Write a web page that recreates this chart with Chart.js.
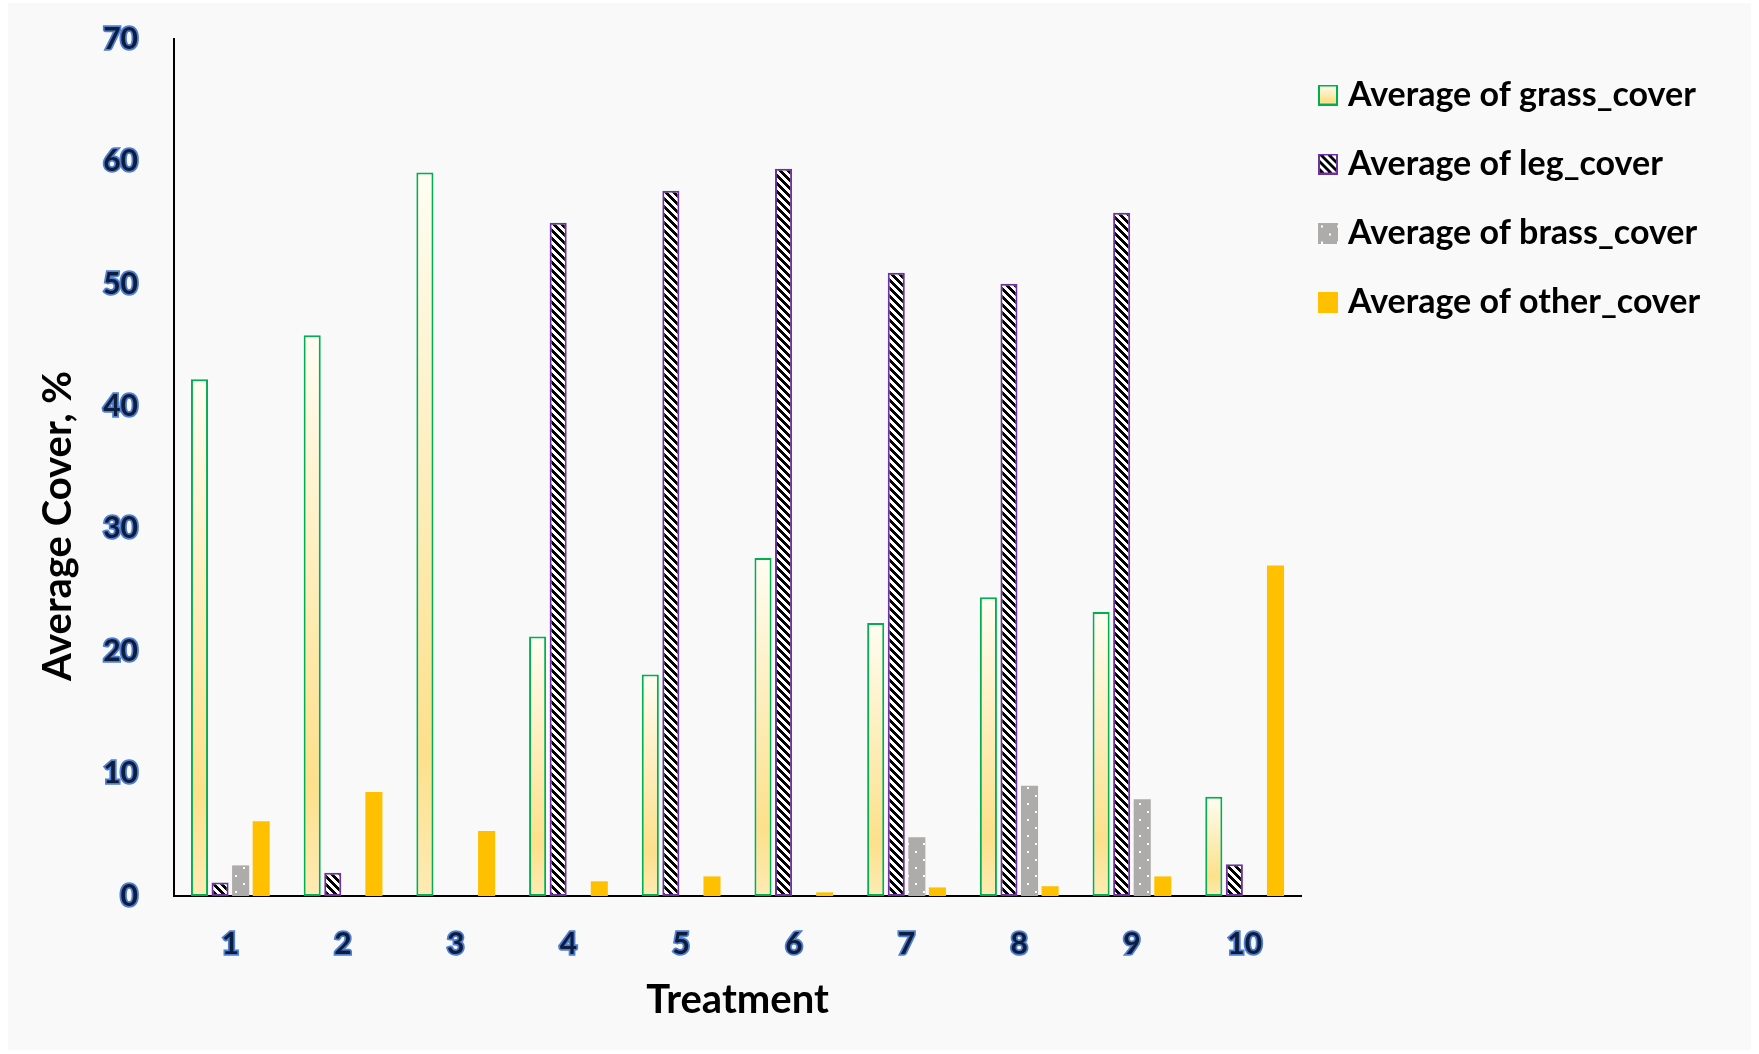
<!DOCTYPE html>
<html>
<head>
<meta charset="utf-8">
<title>Average Cover by Treatment</title>
<script src="https://cdn.jsdelivr.net/npm/chart.js@4.4.1/dist/chart.umd.min.js"></script>
<style>
  html, body { margin: 0; padding: 0; background: #ffffff; }
  #wrap { position: relative; width: 1759px; height: 1054px; }
  canvas { display: block; }
</style>
</head>
<body>
<div id="wrap"><canvas id="chart" width="1759" height="1054"></canvas></div>
<script>
// ---- data ----
const treatments = ['1', '2', '3', '4', '5', '6', '7', '8', '9', '10'];
const grassCover = [42.2, 45.8, 59.1, 21.2, 18.1, 27.6, 22.3, 24.4, 23.2, 8.1];
const legCover   = [1.1, 1.9, null, 55.0, 57.6, 59.4, 50.9, 50.0, 55.8, 2.6];
const brassCover = [2.5, null, null, null, null, null, 4.8, 9.0, 7.9, null];
const otherCover = [6.1, 8.5, 5.3, 1.2, 1.6, 0.3, 0.7, 0.8, 1.6, 27.0];
const seriesNames = ['Average of grass_cover', 'Average of leg_cover', 'Average of brass_cover', 'Average of other_cover'];
const yMin = 0, yMax = 70, yStep = 10;
const xTitle = 'Treatment';
const yTitle = 'Average Cover, %';

// ---- look ----
const FONT = 'Lato';
const W = 1759, H = 1054;
const PLOT_LEFT = 174, PLOT_TOP = 39, PLOT_RIGHT = 1301, XAXIS_H = 158;
const LEG_PAD = 24, LEG_POINT_W = 6, LEG_FONT = 34;

// diagonal black/white hatch tile
function hatchTile() {
  const c = document.createElement('canvas'); c.width = 8; c.height = 8;
  const x = c.getContext('2d'); const img = x.createImageData(8, 8);
  for (let j = 0; j < 8; j++) for (let i = 0; i < 8; i++) {
    const k = (j * 8 + i) * 4; const dark = (((i - j) % 8) + 8) % 8 < 4;
    const v = dark ? 0 : 255; img.data[k] = v; img.data[k + 1] = v; img.data[k + 2] = v; img.data[k + 3] = 255;
  }
  x.putImageData(img, 0, 0); return c;
}
// grey tile with sparse white dots
function dotTile() {
  const c = document.createElement('canvas'); c.width = 16; c.height = 16;
  const x = c.getContext('2d');
  x.fillStyle = '#aeabab'; x.fillRect(0, 0, 16, 16);
  x.fillStyle = '#ffffff'; x.fillRect(3, 3, 2, 2); x.fillRect(11, 11, 2, 2);
  return c;
}

function makeIcon(draw) {
  const c = document.createElement('canvas'); c.width = 20; c.height = 21;
  draw(c.getContext('2d'), 20, 21); return c;
}

function build() {
  const ctx = document.getElementById('chart').getContext('2d');
  const hatch = ctx.createPattern(hatchTile(), 'repeat');
  const dots = ctx.createPattern(dotTile(), 'repeat');

  const icons = [
    makeIcon((g, w, h) => {
      const gr = g.createLinearGradient(0, 0, 0, h);
      gr.addColorStop(0, '#fffdf3'); gr.addColorStop(0.8, '#fde08b'); gr.addColorStop(1, '#feebb4');
      g.fillStyle = gr; g.fillRect(0, 0, w, h);
      g.strokeStyle = '#00b050'; g.lineWidth = 2; g.strokeRect(1, 1, w - 2, h - 2);
    }),
    makeIcon((g, w, h) => {
      g.fillStyle = g.createPattern(hatchTile(), 'repeat'); g.fillRect(0, 0, w, h);
      g.strokeStyle = '#7030a0'; g.lineWidth = 2; g.strokeRect(1, 1, w - 2, h - 2);
    }),
    makeIcon((g, w, h) => {
      g.fillStyle = g.createPattern(dotTile(), 'repeat'); g.fillRect(0, 0, w, h);
    }),
    makeIcon((g, w, h) => { g.fillStyle = '#ffc000'; g.fillRect(0, 0, w, h); })
  ];

  // legend width -> right padding so the plot ends where wanted
  ctx.font = `bold ${LEG_FONT}px ${FONT}`;
  const textW = Math.max(...seriesNames.map(s => ctx.measureText(s).width));
  const legendW = LEG_PAD + LEG_POINT_W + LEG_FONT / 2 + textW + 10;
  const padRight = Math.max(0, W - PLOT_RIGHT - legendW);

  const grassFill = (c) => {
    const chart = c.chart, ys = chart.scales.y;
    if (c.type !== 'data' || !ys || c.raw == null) return '#fde08b';
    const top = ys.getPixelForValue(c.raw), base = ys.getPixelForValue(0);
    const gr = chart.ctx.createLinearGradient(0, top, 0, base);
    gr.addColorStop(0, '#fffdf3'); gr.addColorStop(0.8, '#fde08b'); gr.addColorStop(1, '#feebb4');
    return gr;
  };

  const background = {
    id: 'background',
    beforeDraw(chart) {
      const g = chart.ctx; g.save();
      g.fillStyle = '#ffffff'; g.fillRect(0, 0, W, H);
      g.fillStyle = '#f9f9f9'; g.fillRect(8, 3, W - 16, H - 7);
      g.restore();
    }
  };
  const sideTitle = {
    id: 'sideTitle',
    afterDraw(chart) {
      const g = chart.ctx; g.save();
      g.translate(58, 526); g.rotate(-Math.PI / 2);
      g.font = `bold 40px ${FONT}`; g.fillStyle = '#000000';
      g.textAlign = 'center'; g.textBaseline = 'middle';
      g.fillText(yTitle, 0, 0);
      g.restore();
    }
  };

  const tickFont = { family: FONT, weight: 'bold', size: 30 };
  const tickStyle = { font: tickFont, color: '#101c3c', textStrokeColor: '#4f7fd0', textStrokeWidth: 3.5 };

  new Chart(ctx, {
    type: 'bar',
    data: {
      labels: treatments,
      datasets: [
        { label: seriesNames[0], data: grassCover, backgroundColor: grassFill, borderColor: '#00b050', borderWidth: 2, borderSkipped: false },
        { label: seriesNames[1], data: legCover, backgroundColor: hatch, borderColor: '#7030a0', borderWidth: 2, borderSkipped: false },
        { label: seriesNames[2], data: brassCover, backgroundColor: dots, borderWidth: 0 },
        { label: seriesNames[3], data: otherCover, backgroundColor: '#ffc000', borderWidth: 0 }
      ]
    },
    options: {
      responsive: false,
      animation: false,
      events: [],
      devicePixelRatio: 1,
      categoryPercentage: 0.73,
      barPercentage: 0.83,
      layout: { padding: { top: PLOT_TOP, left: 0, right: padRight, bottom: 0 } },
      plugins: {
        tooltip: { enabled: false },
        legend: {
          position: 'right',
          align: 'start',
          title: { display: true, text: ' ', font: { size: 10, lineHeight: 1 }, padding: { top: 0, bottom: 5 } },
          labels: {
            usePointStyle: true,
            pointStyleWidth: LEG_POINT_W,
            padding: LEG_PAD,
            color: '#000000',
            font: { family: FONT, weight: 'bold', size: LEG_FONT, lineHeight: '45px' },
            generateLabels: (chart) => chart.data.datasets.map((ds, i) => ({
              text: [ds.label], pointStyle: icons[i], fillStyle: 'rgba(0,0,0,0)', fontColor: '#000000',
              strokeStyle: 'rgba(0,0,0,0)', lineWidth: 0, hidden: false, datasetIndex: i
            }))
          }
        }
      },
      scales: {
        x: {
          grid: { display: false, drawTicks: false },
          border: { display: true, color: '#000000', width: 2 },
          ticks: Object.assign({ padding: 30, maxRotation: 0 }, tickStyle),
          title: { display: true, text: xTitle, color: '#000000', font: { family: FONT, weight: 'bold', size: 40, lineHeight: 1.2 }, padding: { top: 0, bottom: 30 } },
          afterFit: (s) => { s.height = XAXIS_H; }
        },
        y: {
          min: yMin, max: yMax,
          grid: { display: false, drawTicks: false },
          border: { display: true, color: '#000000', width: 2 },
          ticks: Object.assign({ stepSize: yStep, padding: 36 }, tickStyle),
          afterFit: (s) => { s.width = PLOT_LEFT; s.paddingTop = 0; s.paddingBottom = 0; }
        }
      }
    },
    plugins: [background, sideTitle]
  });
}

if (document.fonts && document.fonts.load) {
  Promise.all([document.fonts.load(`bold 30px ${FONT}`), document.fonts.load(`bold 40px ${FONT}`)]).then(build, build);
} else {
  build();
}
</script>
</body>
</html>
